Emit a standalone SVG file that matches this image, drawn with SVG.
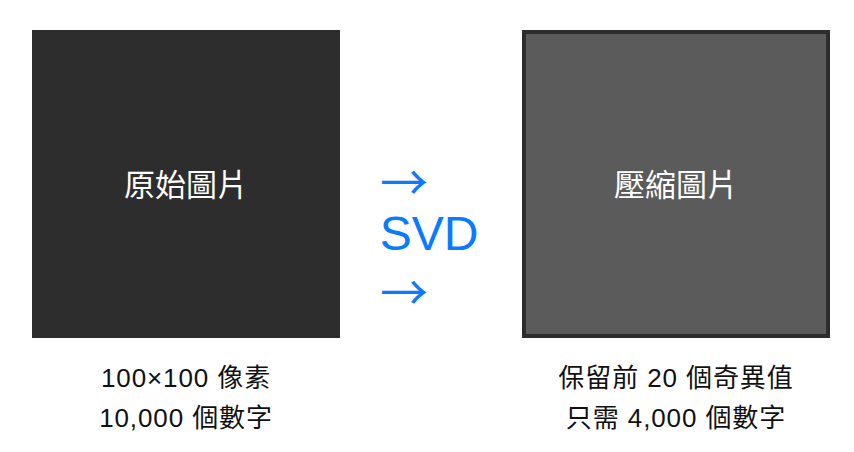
<svg xmlns="http://www.w3.org/2000/svg" width="854" height="452" viewBox="0 0 854 452">
<style>
.box-title{font-family:"Liberation Sans","Noto Sans CJK TC",sans-serif;font-size:31px;fill:#ffffff;text-anchor:middle}
.cap{font-family:"Liberation Sans","Noto Sans CJK TC",sans-serif;font-size:26px;letter-spacing:0.9px;fill:#111111;text-anchor:middle}
.blue{font-family:"Liberation Sans",sans-serif;fill:#0a7aff;text-anchor:middle}
.arrow{font-family:"Noto Sans CJK TC",sans-serif;fill:#0a7aff;text-anchor:middle;font-size:48px}
</style>
<rect width="854" height="452" fill="#ffffff"/>
<g id="original">
<rect x="32" y="30" width="308" height="308" fill="#2d2d2d"/>
<text class="box-title" x="186" y="196">原始圖片</text>
</g>
<g id="compressed">
<rect x="524" y="32" width="304" height="304" fill="#5b5b5b" stroke="#2d2d2d" stroke-width="4"/>
<text class="box-title" x="676" y="196">壓縮圖片</text>
</g>
<g id="connectors">
<text class="arrow" x="404" y="200">→</text>
<text class="blue" x="429" y="250" font-size="48">SVD</text>
<text class="arrow" x="404" y="310">→</text>
</g>
<g id="captions">
<text class="cap" x="186" y="387">100×100 像素</text>
<text class="cap" x="186" y="427">10,000 個數字</text>
<text class="cap" x="676" y="387">保留前 20 個奇異值</text>
<text class="cap" x="676" y="427">只需 4,000 個數字</text>
</g>
</svg>
